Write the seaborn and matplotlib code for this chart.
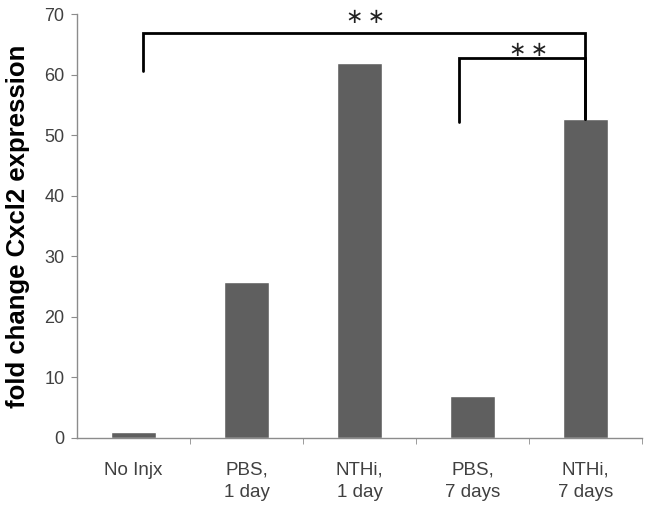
import numpy as np
import pandas as pd
import matplotlib.pyplot as plt
import seaborn as sns

# values
groups = ["No Injx", "PBS,\n1 day", "NTHi,\n1 day", "PBS,\n7 days", "NTHi,\n7 days"]
fold_change = [1.0, 25.8, 61.9, 6.9, 52.6]

# significance brackets: (left group, right group, bracket height, left arm bottom, right arm bottom)
brackets = [(0, 4, 66.9, 60.6, 52.6), (3, 4, 62.7, 52.2, 52.6)]
stars = ["∗\u2009∗", "∗\u2009∗"]
star_pos = [(2.05, 69.5), (3.5, 64.1)]

df = pd.DataFrame({"group": groups, "fold": fold_change})

sns.set_style("white")
plt.rcParams["font.family"] = ["Liberation Sans", "DejaVu Sans"]

fig = plt.figure(figsize=(6.51, 5.13), dpi=100)
ax = fig.add_axes([0.1183, 0.1462, 0.8677, 0.8265])

sns.barplot(data=df, x="group", y="fold", color="#5f5f5f", saturation=1,
            width=0.4, ax=ax)

ax.set_xlim(-0.5, len(groups) - 0.5)
ax.set_ylim(0, 70)
ax.set_yticks(np.arange(0, 71, 10))
ax.set_xlabel("")
ax.set_ylabel("fold change Cxcl2 expression", fontsize=18.5, fontweight="bold",
              color="black", labelpad=10)

for s in ["top", "right"]:
    ax.spines[s].set_visible(False)
for s in ["left", "bottom"]:
    ax.spines[s].set_color("#8c8c8c")
    ax.spines[s].set_linewidth(1.0)

ax.tick_params(axis="y", direction="out", length=4, color="#8c8c8c",
               labelsize=13, labelcolor="#404040", left=True, pad=5)
ax.tick_params(axis="x", length=0, labelsize=13.5, labelcolor="#404040", pad=17)
ax.set_xticks(range(len(groups)))
ax.set_xticklabels(groups, linespacing=1.4)
ax.set_xticks(np.arange(0.5, len(groups), 1.0), minor=True)
ax.tick_params(axis="x", which="minor", direction="out", length=4,
               color="#8c8c8c", bottom=True)

offsets = [0.08, -0.12]
for (i, j, h, yl, yr), st, off, (sx, sy) in zip(brackets, stars, offsets, star_pos):
    xl = i + off
    xr = j
    ax.plot([xl, xl, xr, xr], [yl, h, h, yr], color="black", lw=2,
            clip_on=False, solid_joinstyle="miter")
    ax.text(sx, sy, st, ha="center", va="center", fontsize=15,
            color="#222222", family="DejaVu Sans", clip_on=False)

fig.savefig("out.png", dpi=100)
